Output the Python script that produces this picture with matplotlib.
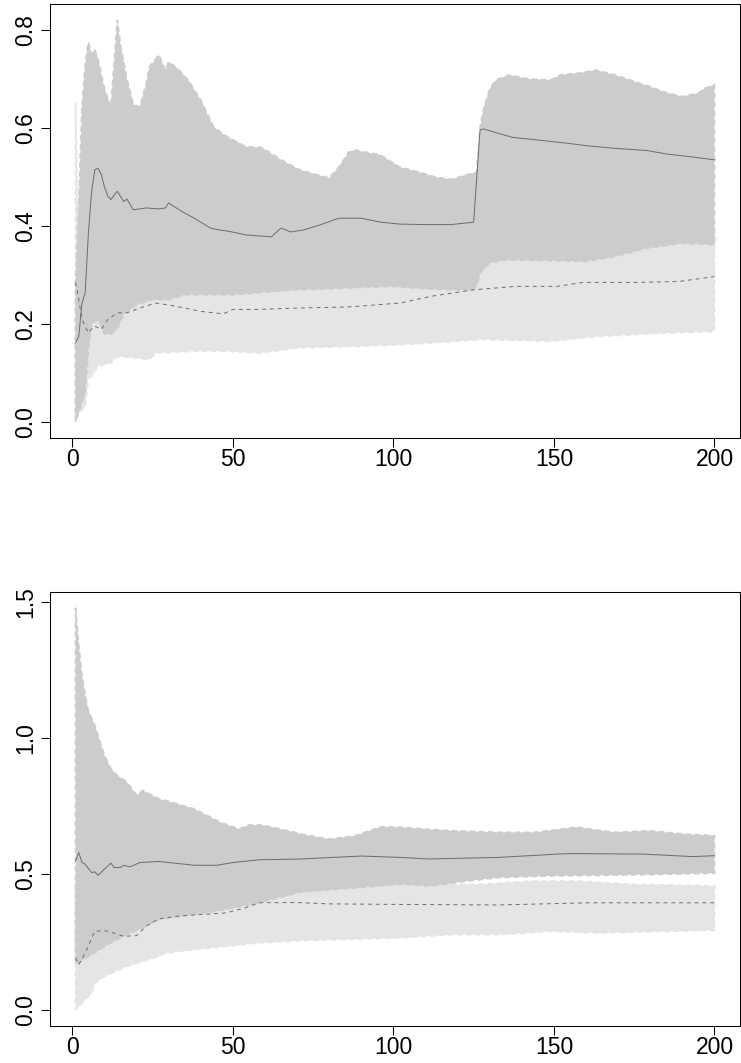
import numpy as np
import matplotlib
matplotlib.use("Agg")
import matplotlib.pyplot as plt

plt.rcParams["font.family"] = ["Liberation Sans", "DejaVu Sans"]

# ---- panel superior ----
top_dark_hi_x = [1, 2, 3, 4, 5, 6, 7, 8, 10, 12, 13, 14, 15, 17, 19, 21, 23, 24, 27, 29,
                 30, 33, 36, 40, 44, 48, 54, 59, 65, 71, 76, 80, 83, 86, 88, 92, 96, 102, 108, 113,
                 118, 122, 125, 126, 127, 128, 130, 132, 136, 142, 149, 152, 158, 163, 169, 175, 180, 185, 190, 195,
                 197, 200]
top_dark_hi = [0.28, 0.45, 0.64, 0.73, 0.775, 0.75, 0.76, 0.74, 0.68, 0.643, 0.73, 0.82, 0.77, 0.70, 0.648, 0.643, 0.69, 0.725, 0.749, 0.718,
               0.735, 0.72, 0.698, 0.657, 0.602, 0.583, 0.562, 0.56, 0.535, 0.514, 0.505, 0.498, 0.52, 0.55, 0.555, 0.55, 0.545, 0.52, 0.51, 0.50,
               0.495, 0.503, 0.508, 0.51, 0.60, 0.637, 0.68, 0.698, 0.708, 0.70, 0.698, 0.708, 0.712, 0.718, 0.708, 0.695, 0.684, 0.672, 0.664, 0.671,
               0.681, 0.688]
top_dark_lo_x = [1, 2, 3, 4, 5, 6, 8, 10, 12, 14, 16, 20, 25, 30, 35, 40, 50, 60, 70, 80,
                 90, 100, 110, 118, 125, 126, 127, 130, 135, 145, 160, 169, 179, 190, 200]
top_dark_lo = [0.0, 0.02, 0.04, 0.06, 0.15, 0.20, 0.21, 0.18, 0.18, 0.19, 0.22, 0.24, 0.25, 0.25, 0.26, 0.26, 0.26, 0.265, 0.27, 0.272,
               0.275, 0.277, 0.272, 0.27, 0.27, 0.28, 0.304, 0.325, 0.331, 0.33, 0.328, 0.338, 0.355, 0.365, 0.362]
top_light_hi_x = [1, 2, 3, 5, 10, 20, 40, 60, 80, 100, 120, 127, 130, 150, 170, 190, 200]
top_light_hi = [0.65, 0.30, 0.20, 0.22, 0.20, 0.27, 0.28, 0.28, 0.29, 0.30, 0.31, 0.34, 0.36, 0.37, 0.37, 0.38, 0.38]
top_light_lo_x = [1, 2, 4, 5, 6, 8, 12, 14, 20, 24, 26, 29, 38, 48, 58, 71, 90, 102, 112, 128,
                  149, 164, 185, 200]
top_light_lo = [0.01, 0.02, 0.03, 0.09, 0.094, 0.114, 0.121, 0.134, 0.131, 0.128, 0.142, 0.142, 0.145, 0.145, 0.141, 0.152, 0.155, 0.158, 0.162, 0.169,
                0.165, 0.175, 0.182, 0.185]
top_solid_x = [1, 2, 3, 4, 5, 6, 7, 8, 9, 10, 11, 12, 14, 16, 17, 19, 23, 27, 29, 30,
               34, 38, 43, 45, 49, 54, 58, 62, 65, 68, 72, 77, 83, 90, 96, 102, 110, 118, 125, 127,
               128, 137, 147, 154, 160, 168, 179, 185, 193, 200]
top_solid = [0.162, 0.175, 0.243, 0.264, 0.386, 0.47, 0.515, 0.518, 0.505, 0.48, 0.462, 0.454, 0.471, 0.45, 0.455, 0.433, 0.437, 0.435, 0.437, 0.447,
             0.43, 0.416, 0.396, 0.393, 0.389, 0.382, 0.38, 0.378, 0.396, 0.388, 0.392, 0.402, 0.416, 0.416, 0.408, 0.404, 0.403, 0.403, 0.408, 0.596,
             0.598, 0.581, 0.574, 0.569, 0.564, 0.559, 0.554, 0.547, 0.541, 0.535]
top_dash_x = [1, 2, 3, 5, 6, 7, 9, 11, 14, 17, 21, 26, 31, 40, 47, 50, 58, 71, 86, 102,
              112, 125, 138, 151, 159, 175, 189, 200]
top_dash = [0.285, 0.25, 0.21, 0.182, 0.19, 0.196, 0.189, 0.209, 0.223, 0.223, 0.233, 0.243, 0.238, 0.226, 0.221, 0.23, 0.23, 0.233, 0.235, 0.243,
            0.257, 0.27, 0.277, 0.277, 0.285, 0.285, 0.287, 0.297]
top_yticks = [0.0, 0.2, 0.4, 0.6, 0.8]

# ---- panel inferior ----
bot_dark_hi_x = [1, 2, 3, 4, 5, 7, 10, 12, 14, 17, 20, 22, 27, 32, 38, 42, 46, 52, 55, 59,
                 65, 72, 80, 88, 96, 102, 110, 118, 133, 144, 157, 169, 180, 190, 200]
bot_dark_hi = [1.479, 1.34, 1.23, 1.158, 1.10, 1.047, 0.936, 0.887, 0.862, 0.838, 0.789, 0.807, 0.776, 0.76, 0.739, 0.715, 0.69, 0.665, 0.68, 0.68,
               0.665, 0.645, 0.628, 0.64, 0.673, 0.672, 0.665, 0.659, 0.653, 0.653, 0.672, 0.653, 0.659, 0.647, 0.641]
bot_dark_lo_x = [1, 2, 4, 7, 12, 17, 22, 27, 38, 48, 58, 71, 86, 102, 112, 123, 133, 149, 164, 185, 200]
bot_dark_lo = [0.17, 0.173, 0.19, 0.21, 0.247, 0.277, 0.302, 0.333, 0.351, 0.37, 0.394, 0.433, 0.447, 0.462, 0.456, 0.474, 0.487, 0.493, 0.495, 0.499, 0.503]
bot_light_hi_x = [1, 5, 10, 20, 40, 60, 80, 102, 112, 122, 128, 143, 157, 174, 200]
bot_light_hi = [0.45, 0.35, 0.38, 0.42, 0.44, 0.45, 0.46, 0.47, 0.465, 0.462, 0.462, 0.474, 0.474, 0.462, 0.456]
bot_light_lo_x = [1, 3, 6, 7, 10, 17, 27, 29, 38, 48, 58, 71, 102, 118, 133, 149, 164, 185, 200]
bot_light_lo = [0.0, 0.025, 0.062, 0.099, 0.123, 0.16, 0.197, 0.209, 0.222, 0.234, 0.247, 0.255, 0.265, 0.277, 0.277, 0.289, 0.283, 0.289, 0.293]
bot_solid_x = [1, 2, 3, 4, 6, 7, 8, 10, 12, 13, 15, 16, 18, 21, 27, 38, 45, 50, 58, 71,
               90, 102, 111, 118, 133, 151, 156, 178, 193, 200]
bot_solid = [0.548, 0.579, 0.542, 0.536, 0.505, 0.508, 0.495, 0.518, 0.54, 0.524, 0.524, 0.532, 0.526, 0.542, 0.546, 0.532, 0.532, 0.542, 0.552, 0.555,
             0.566, 0.561, 0.555, 0.557, 0.561, 0.573, 0.575, 0.573, 0.564, 0.567]
bot_dash_x = [1, 2, 4, 7, 11, 16, 20, 23, 27, 33, 40, 48, 54, 58, 70, 80, 102, 133, 161, 200]
bot_dash = [0.191, 0.166, 0.21, 0.29, 0.29, 0.271, 0.273, 0.308, 0.335, 0.345, 0.351, 0.357, 0.376, 0.394, 0.395, 0.39, 0.388, 0.386, 0.394, 0.394]
bot_yticks = [0.0, 0.5, 1.0, 1.5]

xticks = [0, 50, 100, 150, 200]

DARK = "#cccccc"
LIGHT = "#e5e5e5"
LINE = "#6b6b6b"


def band(ax, hx, hy, lx, ly, color):
    # polígono: borde superior + borde inferior invertido
    px = np.r_[hx, lx[::-1]]
    py = np.r_[hy, ly[::-1]]
    ax.fill(px, py, facecolor=color, edgecolor=color, linewidth=1.3,
            linestyle=(0, (3, 2)), zorder=1)


def r_range(lo, hi):
    pad = 0.04 * (hi - lo)
    return lo - pad, hi + pad


def panel(ax, light, dark, solid, dash, yticks):
    band(ax, *light, LIGHT)
    band(ax, *dark, DARK)
    ax.plot(solid[0], solid[1], color=LINE, linewidth=0.7, zorder=3)
    ax.plot(dash[0], dash[1], color=LINE, linewidth=0.7, dashes=(4, 4), zorder=3)

    allx = np.r_[light[0], light[2], dark[0], dark[2]]
    ally = np.r_[light[1], light[3], dark[1], dark[3]]
    ax.set_xlim(*r_range(allx.min(), allx.max()))
    ax.set_ylim(*r_range(ally.min(), ally.max()))

    ax.set_xticks(xticks)
    ax.set_xticklabels([str(t) for t in xticks])
    ax.set_yticks(yticks)
    ax.set_yticklabels([f"{t:.1f}" for t in yticks], rotation=90, va="center")
    ax.tick_params(axis="both", direction="out", length=6.5, width=0.75,
                   labelsize=16.5, colors="black")
    ax.tick_params(axis="x", pad=0.5)
    ax.tick_params(axis="y", pad=2.5)
    for s in ax.spines.values():
        s.set_linewidth(0.75)
        s.set_color("black")


fig = plt.figure(figsize=(7.41, 10.63), dpi=100)
ax1 = fig.add_axes([50 / 741, 1 - 438.3 / 1063, 690 / 741, 434.3 / 1063])
ax2 = fig.add_axes([50 / 741, 1 - 1026 / 1063, 690 / 741, 434.3 / 1063])

panel(ax1,
      (top_light_hi_x, top_light_hi, top_light_lo_x, top_light_lo),
      (top_dark_hi_x, top_dark_hi, top_dark_lo_x, top_dark_lo),
      (top_solid_x, top_solid), (top_dash_x, top_dash), top_yticks)
panel(ax2,
      (bot_light_hi_x, bot_light_hi, bot_light_lo_x, bot_light_lo),
      (bot_dark_hi_x, bot_dark_hi, bot_dark_lo_x, bot_dark_lo),
      (bot_solid_x, bot_solid), (bot_dash_x, bot_dash), bot_yticks)

fig.savefig("out.png", dpi=100, facecolor="white")
plt.close(fig)
